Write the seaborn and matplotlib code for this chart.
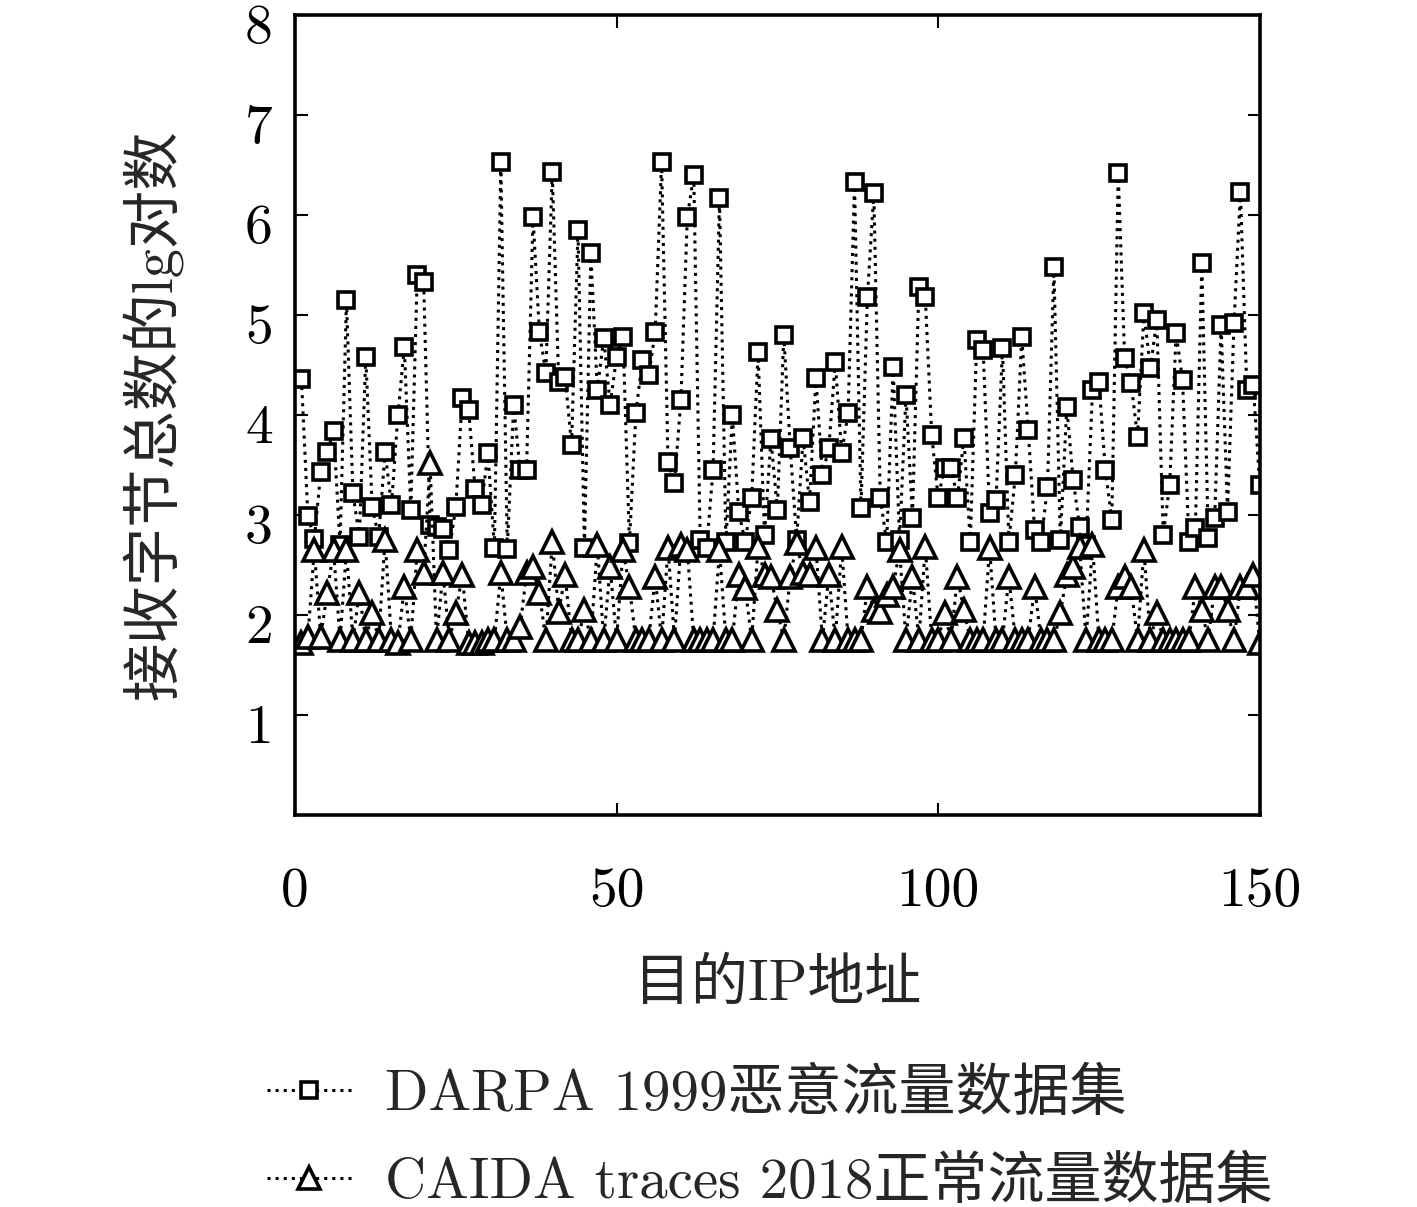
import numpy as np
import matplotlib
matplotlib.use("Agg")
import matplotlib.pyplot as plt
import matplotlib.transforms as mtransforms
import seaborn as sns

# lg of received bytes per destination IP
darpa = [
    4.36, 2.99, 2.76, 3.43, 3.63, 3.84, 2.70, 5.15, 3.22, 2.78,
    4.58, 3.08, 2.78, 3.63, 3.10, 4.00, 4.68, 3.05, 5.40, 5.33,
    2.90, 2.88, 2.86, 2.65, 3.08, 4.17, 4.05, 3.26, 3.10, 3.62,
    2.67, 6.53, 2.66, 4.10, 3.45, 3.45, 5.98, 4.83, 4.42, 6.43,
    4.33, 4.38, 3.70, 5.85, 2.67, 5.62, 4.25, 4.77, 4.10, 4.58,
    4.78, 2.72, 4.02, 4.55, 4.40, 4.83, 6.53, 3.53, 3.32, 4.15,
    5.98, 6.40, 2.75, 2.67, 3.45, 6.17, 2.73, 4.00, 3.03, 2.73,
    3.17, 4.63, 2.80, 3.76, 3.05, 4.80, 3.67, 2.75, 3.77, 3.13,
    4.37, 3.40, 3.67, 4.53, 3.62, 4.02, 6.33, 3.07, 5.18, 6.22,
    3.17, 2.73, 4.48, 2.75, 4.20, 2.97, 5.28, 5.18, 3.80, 3.17,
    3.47, 3.47, 3.17, 3.77, 2.73, 4.75, 4.65, 3.02, 3.15, 4.67,
    2.73, 3.40, 4.78, 3.85, 2.85, 2.73, 3.28, 5.48, 2.75, 4.08,
    3.35, 2.88, 2.70, 4.25, 4.33, 3.45, 2.95, 6.42, 4.57, 4.32,
    3.78, 5.02, 4.47, 4.95, 2.80, 3.30, 4.82, 4.35, 2.73, 2.87,
    5.52, 2.77, 2.97, 4.90, 3.03, 4.92, 6.23, 4.25, 4.30, 3.30,
]
caida = [
    1.72, 1.78, 2.65, 1.78, 2.22, 2.65, 1.75, 2.65, 1.75, 2.22,
    1.75, 2.02, 1.75, 2.75, 1.75, 1.72, 2.28, 1.75, 2.65, 2.42,
    3.52, 1.75, 2.42, 1.75, 2.02, 2.40, 1.72, 1.72, 1.72, 1.75,
    1.75, 2.42, 1.75, 1.75, 1.88, 2.42, 2.48, 2.22, 1.75, 2.73,
    2.03, 2.40, 1.75, 1.75, 2.05, 1.75, 2.70, 1.75, 2.48, 1.75,
    2.65, 2.28, 1.75, 1.75, 1.75, 2.38, 1.75, 2.67, 1.75, 2.70,
    2.65, 1.75, 1.75, 1.75, 1.75, 2.65, 1.75, 1.75, 2.40, 2.27,
    1.75, 2.68, 2.40, 2.38, 2.05, 1.75, 2.38, 2.72, 2.42, 2.40,
    2.67, 1.75, 2.40, 1.75, 2.68, 1.75, 1.75, 1.75, 2.28, 2.05,
    2.03, 2.20, 2.28, 2.65, 1.75, 2.38, 1.75, 2.68, 1.75, 1.75,
    2.02, 1.75, 2.38, 2.05, 1.75, 1.75, 1.75, 2.67, 1.75, 1.75,
    2.38, 1.75, 1.75, 1.75, 2.28, 1.75, 1.75, 1.75, 2.02, 2.40,
    2.48, 2.68, 1.75, 2.70, 1.75, 1.75, 1.75, 2.28, 2.38, 2.28,
    1.75, 2.65, 1.75, 2.02, 1.75, 1.75, 1.75, 1.75, 1.75, 2.28,
    2.05, 1.75, 2.28, 2.28, 2.05, 1.75, 2.28, 2.28, 2.40, 1.72,
]
ip_index = np.arange(1, len(darpa) + 1)

series_labels = ["DARPA 1999恶意流量数据集", "CAIDA traces 2018正常流量数据集"]
x_ticks = [0, 50, 100, 150]
y_ticks = [1, 2, 3, 4, 5, 6, 7, 8]

sns.set_style("ticks")
fonts = ["cmr10", "Noto Sans CJK SC"]
plt.rcParams["font.family"] = fonts
plt.rcParams["axes.unicode_minus"] = False

fig = plt.figure(figsize=(14.17, 12.07), dpi=100)
ax = fig.add_axes([0.2082, 0.3248, 0.6808, 0.6628])

line_kw = dict(color="black", linestyle=":", linewidth=2.2,
               markerfacecolor="white", markeredgecolor="black",
               markeredgewidth=2.6)
sns.lineplot(x=ip_index, y=darpa, marker="s", markersize=11.5,
             label=series_labels[0], ax=ax, **line_kw)
sns.lineplot(x=ip_index, y=caida, marker="^", markersize=15.5,
             label=series_labels[1], ax=ax, **line_kw)

ax.set_xlim(0, 150)
ax.set_ylim(0, 8)
ax.set_xticks(x_ticks)
ax.set_yticks(y_ticks)
ax.tick_params(direction="in", length=9, width=1.5, top=True, right=True,
               labelsize=40, colors="black")
ax.tick_params(axis="x", pad=38)
ax.tick_params(axis="y", pad=16)
# numbers sit a little below their ticks in the reference
shift = mtransforms.ScaledTranslation(0, -9 / 100, fig.dpi_scale_trans)
for lab in ax.get_yticklabels():
    lab.set_transform(lab.get_transform() + shift)
for sp in ax.spines.values():
    sp.set_linewidth(2.6)
    sp.set_color("black")

ax.set_xlabel("目的IP地址", fontsize=41, labelpad=30, family=fonts)
ax.set_ylabel("接收字节总数的lg对数", fontsize=42, labelpad=44, family=fonts)

handles, labels = ax.get_legend_handles_labels()
ax.legend_.remove()
fig.legend(handles, labels, loc="upper left", bbox_to_anchor=(0.152, 0.158),
           frameon=False, fontsize=41, handlelength=1.5, handletextpad=0.57,
           labelspacing=0.62)

fig.savefig("out.png", dpi=100, facecolor="white")
